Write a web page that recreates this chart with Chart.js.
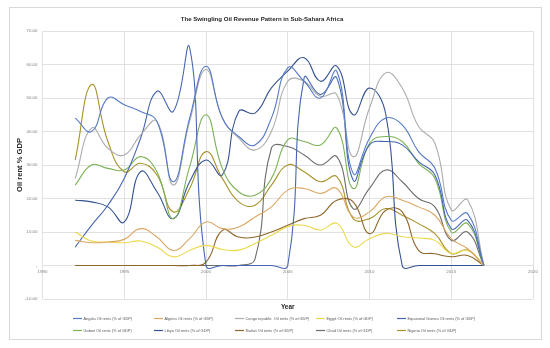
<!DOCTYPE html>
<html>
<head>
<meta charset="utf-8">
<title>The Swingling Oil Revenue Pattern in Sub-Sahara Africa</title>
<script src="https://cdn.jsdelivr.net/npm/chart.js@4.4.1/dist/chart.umd.min.js"></script>
<style>
    html, body { margin: 0; padding: 0; background: #fff; }
    #wrap { position: relative; width: 550px; height: 348px; }
</style>
</head>
<body>
<div id="wrap"><canvas id="oilChart"></canvas></div>
<script>
// Data (% of GDP)
const years = [1992, 1993, 1994, 1995, 1996, 1997, 1998, 1999, 2000, 2001, 2002, 2003, 2004,
               2005, 2006, 2007, 2008, 2009, 2010, 2011, 2012, 2013, 2014, 2015, 2016, 2017];

const angola   = [44, 40, 50, 48, 46, 43, 25, 44, 59.5, 44, 38.5, 36, 44, 59, 55, 50, 58, 27.5, 38, 44, 42, 34, 29, 13.5, 15.5, 0];
const algeria  = [7.5, 6.8, 7, 7.8, 11, 8.5, 4.5, 8, 13, 11, 11.5, 14.5, 17.5, 22.5, 23, 21.5, 23, 14.5, 16, 20.5, 19.5, 17.5, 15, 8, 5, 0];
const congo    = [26, 41, 35, 33, 39, 43, 24, 43, 58.5, 44, 38, 34.5, 40, 55, 55, 50.5, 51, 32.5, 47, 57.5, 53, 41.5, 36.5, 16.6, 19.6, 0];
const egypt    = [10, 7.3, 7, 6.8, 7.3, 5.5, 2.6, 4.5, 6, 4.8, 4.6, 6.6, 9, 11.6, 12, 10.6, 12.6, 5.6, 8, 9.6, 8.6, 8.2, 7.5, 3.6, 4.5, 0];
const eqGuinea = [5.5, 12, 18, 26, 38, 52, 46, 65, 0, 0, 0, 0, 0, 0, 56, 51, 56, 25.5, 36, 37, 36, 31, 27, 11, 13.5, 0];
const gabon    = [24, 30, 29, 28.5, 32.5, 28, 14, 29.5, 45, 29, 22, 21, 26, 37.5, 37, 36, 41, 23, 36.5, 38.5, 37, 30.5, 26, 10, 12.5, 0];
const libya    = [19.5, 19, 17.5, 13, 28, 22, 14, 25, 31.5, 27, 46, 45.5, 53, 58, 62, 55, 59.5, 45, 53, 45, 0, 0, 0, 0, 0, 0];
const sudan    = [0, 0, 0, 0, 0, 0, 0, 0, 1, 10.5, 8.5, 8.5, 10, 12, 14, 15, 19.5, 19, 9.5, 16.5, 16, 4.5, 3.5, 2.6, 3, 0];
const chad     = [0, 0, 0, 0, 0, 0, 0, 0, 0, 0, 0, 2, 35, 35.5, 33, 30, 32.5, 17, 23, 28.5, 25, 20, 17.5, 7.5, 10, 0];
const nigeria  = [31.5, 54, 37, 28, 30.5, 27, 16, 23, 34, 26, 19, 18, 24, 30, 28, 25, 26.5, 14, 14, 17, 15, 12.5, 9.5, 3.6, 4.6, 0];

const seriesNames = [
    'Angola Oil rents (% of GDP)', 'Algeria Oil rents (% of GDP)', 'Congo republic  Oil rents (% of GDP)',
    'Egypt Oil rents (% of GDP)', 'Equatorial Guinea Oil rents (% of GDP)', 'Gabon Oil rents (% of GDP)',
    'Libya Oil rents (% of GDP)', 'Sudan Oil rents (% of GDP)', 'Chad Oil rents (% of GDP)', 'Nigeria Oil rents (% of GDP)'
];
const seriesValues = [angola, algeria, congo, egypt, eqGuinea, gabon, libya, sudan, chad, nigeria];

const xTicks = [1990, 1995, 2000, 2005, 2010, 2015, 2020];
const yTicks = [-10, 0, 10, 20, 30, 40, 50, 60, 70];

// Styles
const palette = ['#5479c6', '#dba662', '#acacac', '#ebd84a', '#4565b2', '#7cb256',
                 '#34528f', '#8f6629', '#6c6c6c', '#a8922a'];
const FONT = '"Liberation Sans", Arial, sans-serif';

// Frame, title and legend
const chartDecor = {
    id: 'chartDecor',
    beforeDraw(chart) {
        const ctx = chart.ctx;
        ctx.save();
        ctx.fillStyle = '#fff';
        ctx.fillRect(0, 0, chart.width, chart.height);
        ctx.strokeStyle = '#d9d9d9';
        ctx.lineWidth = 1;
        ctx.strokeRect(9.5, 7.5, 532, 332);
        ctx.restore();
    },
    afterDraw(chart) {
        const ctx = chart.ctx;
        ctx.save();
        ctx.fillStyle = '#262626';
        ctx.font = 'bold 6.1px ' + FONT;
        ctx.textAlign = 'center';
        ctx.textBaseline = 'middle';
        ctx.fillText('The Swingling Oil Revenue Pattern in Sub-Sahara Africa', 262, 19);

        // legend, 5 columns x 2 rows
        ctx.font = '3.9px ' + FONT;
        ctx.textAlign = 'left';
        ctx.fillStyle = '#595959';
        chart.data.datasets.forEach((ds, i) => {
            const x0 = 73 + (i % 5) * 81;
            const y0 = i < 5 ? 318.5 : 330.5;
            ctx.strokeStyle = ds.borderColor;
            ctx.lineWidth = 1.2;
            ctx.beginPath();
            ctx.moveTo(x0, y0);
            ctx.lineTo(x0 + 9, y0);
            ctx.stroke();
            ctx.fillText(ds.label, x0 + 10.5, y0);
        });
        ctx.restore();
    }
};

const datasets = seriesValues.map((vals, i) => ({
    label: seriesNames[i],
    data: years.map((yr, j) => ({ x: yr, y: vals[j] })),
    borderColor: palette[i],
    backgroundColor: palette[i],
    borderWidth: 1.1,
    pointRadius: 0,
    tension: 0.45,
    fill: false
}));

new Chart(document.getElementById('oilChart'), {
    type: 'line',
    data: { datasets: datasets },
    plugins: [chartDecor],
    options: {
        responsive: true,
        maintainAspectRatio: false,
        animation: false,
        layout: { padding: { left: 9, right: 17, top: 31, bottom: 36 } },
        plugins: {
            legend: { display: false },
            tooltip: { enabled: false }
        },
        scales: {
            x: {
                type: 'linear',
                position: { y: 0 },
                min: 1990,
                max: 2020,
                afterBuildTicks: (scale) => { scale.ticks = xTicks.map(v => ({ value: v })); },
                grid: { color: '#d9d9d9', lineWidth: 0.8, drawTicks: false },
                border: { display: false },
                ticks: {
                    padding: 4,
                    color: '#7f7f7f',
                    font: { family: FONT, size: 4.4 },
                    maxRotation: 0,
                    callback: (v) => String(v)
                }
            },
            x2: {
                type: 'linear',
                axis: 'x',
                position: 'bottom',
                min: 1990,
                max: 2020,
                grid: { display: false },
                border: { display: false },
                ticks: { display: false },
                afterFit: (scale) => { scale.height = 13; },
                title: {
                    display: true,
                    text: 'Year',
                    color: '#262626',
                    font: { family: FONT, size: 6.5, weight: 'bold' },
                    padding: { top: 0, bottom: 1.2 }
                }
            },
            y: {
                min: -10,
                max: 70,
                afterBuildTicks: (scale) => { scale.ticks = yTicks.map(v => ({ value: v })); },
                afterFit: (scale) => { scale.width = 33.5; },
                grid: { color: '#d9d9d9', lineWidth: 0.8, drawTicks: false },
                border: { display: false },
                ticks: {
                    padding: 5,
                    color: '#7f7f7f',
                    font: { family: FONT, size: 4.4 },
                    callback: (v) => v === 0 ? '-' : v.toFixed(2)
                },
                title: {
                    display: true,
                    text: 'Oil rent % GDP',
                    color: '#262626',
                    font: { family: FONT, size: 7.6, weight: 'bold' },
                    padding: { top: 6.5, bottom: 0 }
                }
            }
        }
    }
});
</script>
</body>
</html>
